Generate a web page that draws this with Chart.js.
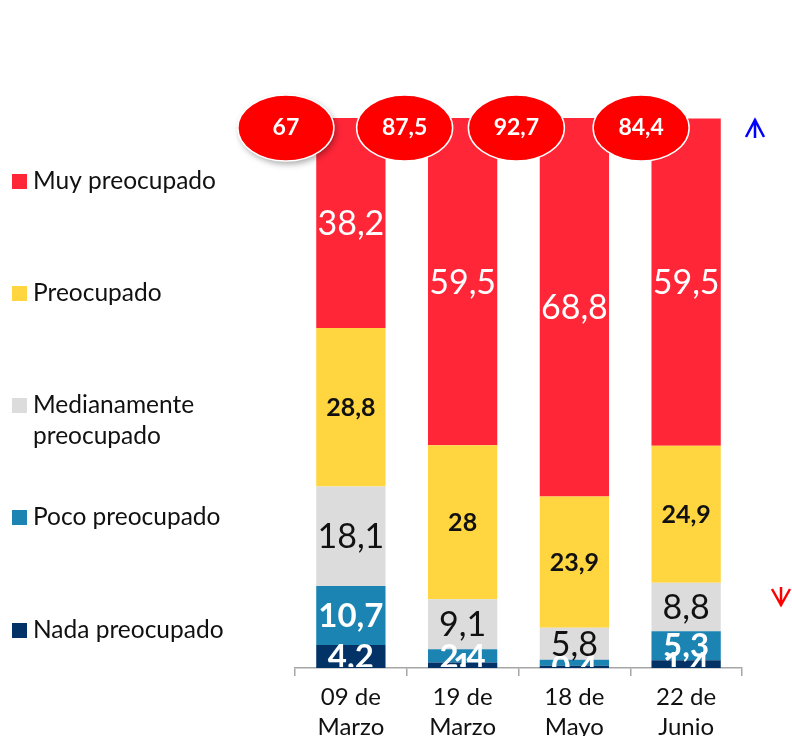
<!DOCTYPE html>
<html>
<head>
<meta charset="utf-8">
<script src="https://cdn.jsdelivr.net/npm/chart.js@4.4.1/dist/chart.umd.min.js"></script>
<style>
  html, body { margin: 0; padding: 0; background: #ffffff; }
  #wrap { width: 792px; height: 736px; }
</style>
</head>
<body>
<div id="wrap"><canvas id="chart" width="792" height="736"></canvas></div>
<script>
// Fechas de la encuesta
const fechas = [['09 de', 'Marzo'], ['19 de', 'Marzo'], ['18 de', 'Mayo'], ['22 de', 'Junio']];

// Porcentajes por nivel de preocupación (de abajo hacia arriba)
const nada = [4.2, 1.0, 0.4, 1.4];
const poco = [10.7, 2.4, 1.1, 5.3];
const medianamente = [18.1, 9.1, 5.8, 8.8];
const preocupado = [28.8, 28, 23.9, 24.9];
const muy = [38.2, 59.5, 68.8, 59.5];

// Valores en los óvalos rojos
const totales = ['67', '87,5', '92,7', '84,4'];

const FONT = 'Lato, "Noto Sans", sans-serif';

const series = [
    { label: 'Nada preocupado', data: nada, color: '#033366', text: '#ffffff', weight: 'bold', size: 33 },
    { label: 'Poco preocupado', data: poco, color: '#1B84B2', text: '#ffffff', weight: 'bold', size: 33 },
    { label: 'Medianamente preocupado', data: medianamente, color: '#DCDCDC', text: '#111111', weight: 'normal', size: 34 },
    { label: 'Preocupado', data: preocupado, color: '#FFD540', text: '#111111', weight: 'bold', size: 25 },
    { label: 'Muy preocupado', data: muy, color: '#FF2638', text: '#ffffff', weight: 'normal', size: 34 }
];

// Etiquetas que no se ven en el original
const ocultas = { 'Poco preocupado': [2] };

function fmt(v) {
    return String(v).replace('.', ',');
}

// Etiquetas dentro de los segmentos
const segmentLabels = {
    id: 'segmentLabels',
    afterDatasetsDraw(chart) {
        const ctx = chart.ctx;
        const area = chart.chartArea;
        ctx.save();
        ctx.beginPath();
        ctx.rect(0, 0, chart.width, area.bottom - 1);
        ctx.clip();
        chart.data.datasets.forEach((ds, i) => {
            const s = series[i];
            const meta = chart.getDatasetMeta(i);
            meta.data.forEach((bar, j) => {
                if (ocultas[s.label] && ocultas[s.label].includes(j)) return;
                const cy = (bar.y + bar.base) / 2;
                ctx.font = s.weight + ' ' + s.size + 'px ' + FONT;
                ctx.fillStyle = s.text;
                ctx.textAlign = 'center';
                ctx.textBaseline = 'middle';
                ctx.fillText(fmt(ds.data[j]), bar.x, cy + 1);
            });
        });
        ctx.restore();
    }
};

// Leyenda, óvalos y flechas
const extras = {
    id: 'extras',
    afterDraw(chart) {
        const ctx = chart.ctx;
        const area = chart.chartArea;
        ctx.save();

        // Leyenda a la izquierda
        const legendRows = [
            { s: series[4], lines: ['Muy preocupado'], y: 181 },
            { s: series[3], lines: ['Preocupado'], y: 293 },
            { s: series[2], lines: ['Medianamente', 'preocupado'], y: 405 },
            { s: series[1], lines: ['Poco preocupado'], y: 517 },
            { s: series[0], lines: ['Nada preocupado'], y: 630 }
        ];
        ctx.font = '24.5px ' + FONT;
        ctx.textAlign = 'left';
        ctx.textBaseline = 'middle';
        legendRows.forEach(r => {
            ctx.fillStyle = r.s.color;
            ctx.fillRect(12, r.y - 7, 15, 15);
            ctx.fillStyle = '#111111';
            r.lines.forEach((t, k) => ctx.fillText(t, 33, r.y + k * 31));
        });

        // Óvalos rojos con el total
        const xs = chart.getDatasetMeta(0).data.map(b => b.x);
        const offsets = [-65, -58, -58, -45];
        xs.forEach((x, j) => {
            const cx = x + offsets[j];
            const cy = area.top + 10;
            ctx.save();
            if (j === 0) {
                ctx.shadowColor = 'rgba(0,0,0,0.35)';
                ctx.shadowBlur = 6;
                ctx.shadowOffsetX = 2;
                ctx.shadowOffsetY = 3;
            }
            ctx.beginPath();
            ctx.ellipse(cx, cy, 48, 33, 0, 0, Math.PI * 2);
            ctx.fillStyle = '#FF0000';
            ctx.fill();
            ctx.restore();
            ctx.beginPath();
            ctx.ellipse(cx, cy, 48, 33, 0, 0, Math.PI * 2);
            ctx.strokeStyle = '#ffffff';
            ctx.lineWidth = 1.5;
            ctx.stroke();
            ctx.font = 'bold 23px ' + FONT;
            ctx.fillStyle = '#ffffff';
            ctx.textAlign = 'center';
            ctx.textBaseline = 'middle';
            ctx.fillText(totales[j], cx, cy);
        });

        // Flecha azul hacia arriba
        ctx.lineWidth = 2.5;
        ctx.strokeStyle = '#0000FF';
        ctx.beginPath();
        ctx.moveTo(755, 119); ctx.lineTo(755, 138);
        ctx.moveTo(746, 137); ctx.lineTo(755, 120); ctx.lineTo(764, 137);
        ctx.stroke();

        // Flecha roja hacia abajo
        ctx.strokeStyle = '#FF0000';
        ctx.beginPath();
        ctx.moveTo(781, 587); ctx.lineTo(781, 606);
        ctx.moveTo(772, 589); ctx.lineTo(781, 605); ctx.lineTo(790, 589);
        ctx.stroke();

        ctx.restore();
    }
};

const ctx = document.getElementById('chart').getContext('2d');
const chart = new Chart(ctx, {
    type: 'bar',
    data: {
        labels: fechas,
        datasets: series.map(s => ({
            label: s.label,
            data: s.data,
            backgroundColor: s.color,
            borderWidth: 0,
            barPercentage: 0.62,
            categoryPercentage: 1
        }))
    },
    options: {
        responsive: false,
        animation: false,
        layout: { padding: { left: 295, right: 50, top: 118, bottom: 0 } },
        plugins: {
            legend: { display: false },
            tooltip: { enabled: false }
        },
        scales: {
            x: {
                stacked: true,
                grid: {
                    display: true,
                    drawOnChartArea: false,
                    drawTicks: true,
                    tickLength: 8,
                    color: '#A6A6A6',
                    lineWidth: 1.5,
                    offset: true
                },
                border: { color: '#A6A6A6', width: 1.5 },
                ticks: {
                    color: '#111111',
                    font: { family: FONT, size: 24, lineHeight: 1.25 },
                    padding: 6,
                    maxRotation: 0
                },
                afterFit(scale) { scale.height = 68; }
            },
            y: {
                stacked: true,
                display: false,
                min: 0,
                max: 100
            }
        }
    },
    plugins: [segmentLabels, extras]
});
</script>
</body>
</html>
